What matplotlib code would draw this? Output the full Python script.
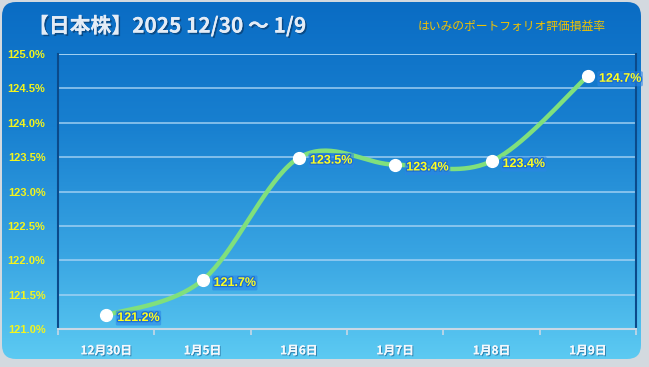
import numpy as np
import matplotlib
matplotlib.use("Agg")
import matplotlib.pyplot as plt
import matplotlib.patheffects as pe
from matplotlib.patches import FancyBboxPatch
from matplotlib.colors import LinearSegmentedColormap

plt.rcParams['font.family'] = ['Noto Sans CJK JP', 'DejaVu Sans']

# ---- data ----
categories = ["12月30日", "1月5日", "1月6日", "1月7日", "1月8日", "1月9日"]
values = [121.20, 121.71, 123.49, 123.39, 123.44, 124.68]
value_labels = ["121.2%", "121.7%", "123.5%", "123.4%", "123.4%", "124.7%"]
yticks = [121.0, 121.5, 122.0, 122.5, 123.0, 123.5, 124.0, 124.5, 125.0]
title = "【日本株】2025 12/30 〜 1/9"
subtitle = "はいみのポートフォリオ評価損益率"

W, H = 649, 367
fig = plt.figure(figsize=(W / 100, H / 100), dpi=100)
fig.patch.set_facecolor('#d3d9df')

# background gradient with rounded corners
bg = fig.add_axes([0, 0, 1, 1])
bg.set_xlim(0, W)
bg.set_ylim(H, 0)
bg.axis('off')
cmap = LinearSegmentedColormap.from_list(
    'bg', [(0.0, '#0a6cc4'), (0.35, '#1880d0'), (0.7, '#38a4e2'), (1.0, '#5ccaf2')])
grad = np.linspace(0, 1, 256).reshape(-1, 1)
im = bg.imshow(grad, cmap=cmap, extent=[2, 641, 359, 2], aspect='auto', zorder=0)
clip = FancyBboxPatch((2, 2), 639, 357, boxstyle='round,pad=0,rounding_size=14',
                      transform=bg.transData, fc='none', ec='none')
bg.add_patch(clip)
im.set_clip_path(clip)

# main axes
ax = fig.add_axes([58 / W, 1 - 329 / H, (636 - 58) / W, (329 - 54) / H])
ax.set_facecolor('none')
n = len(categories)
ax.set_xlim(-0.5, n - 0.5)
ax.set_ylim(121.0, 125.0)

for yv in yticks[1:]:
    ax.axhline(yv, color='#a8d4f4', lw=1.2, alpha=0.85, zorder=1)

# smoothed line (Excel-like smoothing)
xs = np.arange(n, dtype=float)
ys = np.array(values, dtype=float)
px = np.concatenate([[xs[0]], xs, [xs[-1]]])
py = np.concatenate([[ys[0]], ys, [ys[-1]]])
cx, cy = [], []
t = np.linspace(0, 1, 40)
for i in range(1, n):
    p0x, p1x, p2x, p3x = px[i - 1], px[i], px[i + 1], px[i + 2]
    p0y, p1y, p2y, p3y = py[i - 1], py[i], py[i + 1], py[i + 2]
    b1x, b1y = p1x + (p2x - p0x) / 6, p1y + (p2y - p0y) / 6
    b2x, b2y = p2x - (p3x - p1x) / 6, p2y - (p3y - p1y) / 6
    bx = (1 - t) ** 3 * p1x + 3 * (1 - t) ** 2 * t * b1x + 3 * (1 - t) * t ** 2 * b2x + t ** 3 * p2x
    by = (1 - t) ** 3 * p1y + 3 * (1 - t) ** 2 * t * b1y + 3 * (1 - t) * t ** 2 * b2y + t ** 3 * p2y
    cx.extend(bx)
    cy.extend(by)
ax.plot(cx, cy, color='#80e07c', lw=3.2, solid_capstyle='round', zorder=3)
ax.plot(xs, ys, 'o', color='white', ms=8.5, mec='white', zorder=4)

for x, y, lab in zip(xs, ys, value_labels):
    ax.annotate(lab, (x, y), xytext=(8, -2), textcoords='offset points',
                ha='left', va='center', fontsize=9, fontweight='bold',
                color='#ffff20', family=['Liberation Sans'],
                bbox=dict(boxstyle='round,pad=0.12', fc='#2a86e6', ec='none', alpha=0.6),
                path_effects=[pe.withStroke(linewidth=1.8, foreground='#1e6fd0')],
                zorder=5)

# axes styling
ax.spines['top'].set_visible(False)
ax.spines['left'].set_color('#0b4a8a')
ax.spines['left'].set_linewidth(1.5)
ax.spines['right'].set_color('#0b4a8a')
ax.spines['right'].set_linewidth(1.5)
ax.spines['bottom'].set_color('#c8d8e6')
ax.spines['bottom'].set_linewidth(1.5)
ax.axhline(125.0, color='#a8d4f4', lw=1.2, zorder=1)

ax.set_yticks(yticks)
ax.set_yticklabels([f"{v:.1f}%" for v in yticks], fontsize=8, fontweight='bold',
                   color='#f4f41c', family=['Liberation Sans'])
ax.tick_params(axis='y', length=0, pad=9)

ax.set_xticks(xs)
ax.set_xticklabels(categories, fontsize=8.5, fontweight='bold', color='#f4f8fc')
for lbl in ax.get_xticklabels():
    lbl.set_path_effects([pe.withSimplePatchShadow(offset=(0.8, -0.8), shadow_rgbFace='#1a5a8a', alpha=0.6), pe.Normal()])
ax.tick_params(axis='x', which='major', length=0, pad=11)
ax.set_xticks(np.arange(n + 1) - 0.5, minor=True)
ax.tick_params(axis='x', which='minor', length=4, color='#c8d8e6', width=1.2, direction='out')

# titles
fig.text(28 / W, 1 - 26 / H, title, fontsize=15, fontweight='bold', color='#e4ecf6',
         ha='left', va='center',
         path_effects=[pe.withSimplePatchShadow(offset=(1.2, -1.2), shadow_rgbFace='#0a3a6a', alpha=0.7), pe.Normal()])
fig.text(606 / W, 1 - 26 / H, subtitle, fontsize=8.5, color='#f2c200', ha='right', va='center',
         style='italic')

fig.savefig('out.png', dpi=100, facecolor=fig.get_facecolor())
